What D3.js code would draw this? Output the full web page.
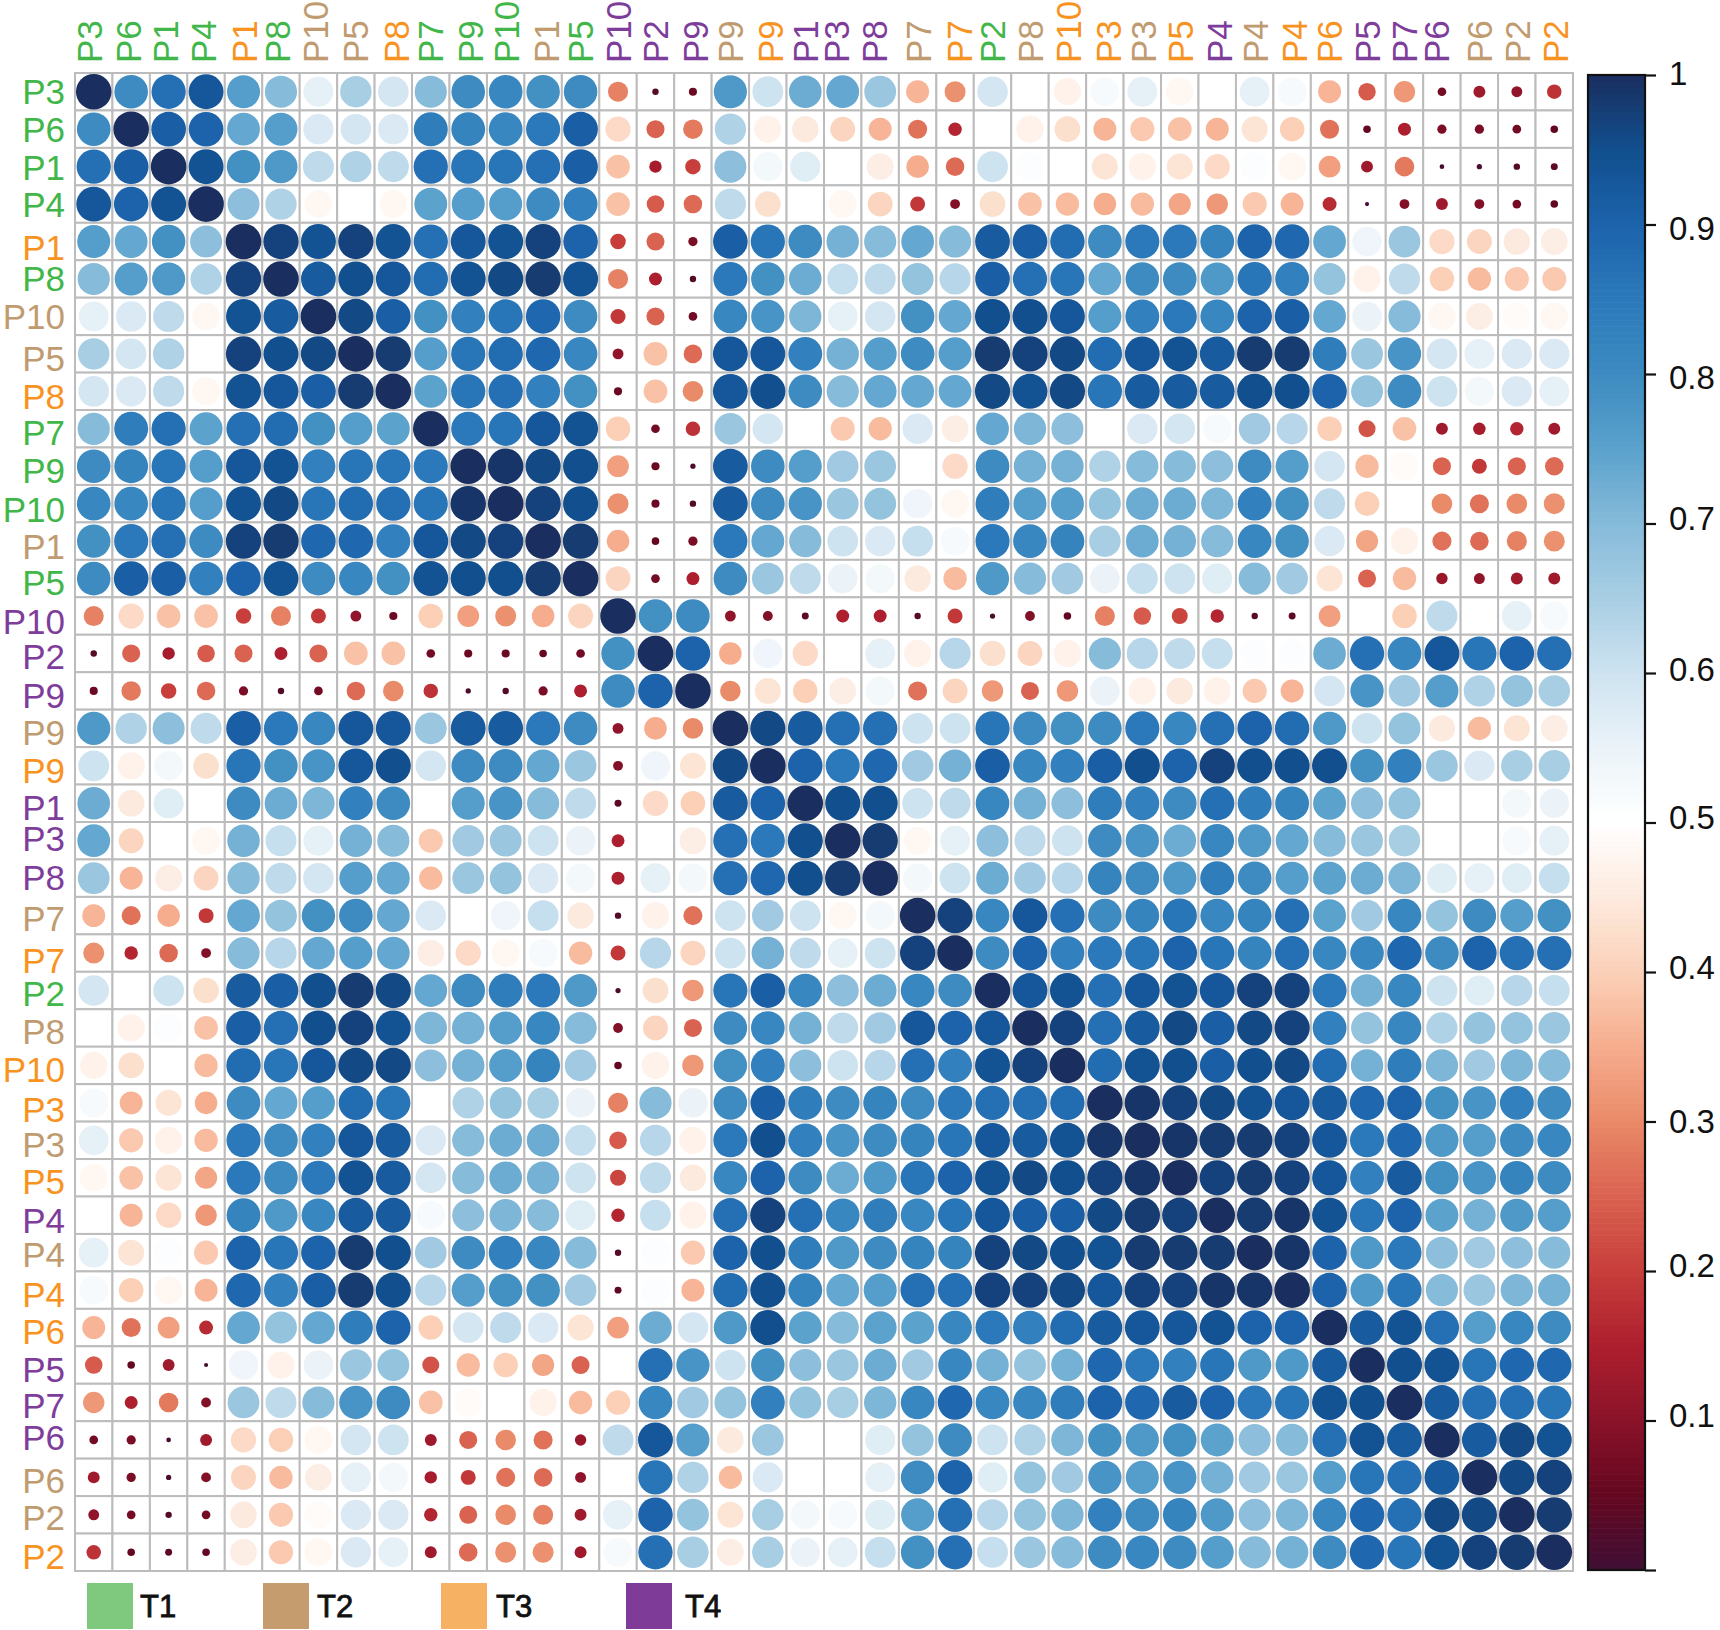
<!DOCTYPE html>
<html>
<head>
<meta charset="utf-8">
<script src="https://cdn.jsdelivr.net/npm/d3@7"></script>
<style>
html,body{margin:0;padding:0;background:#fff}
svg{display:block}
text{font-family:"Liberation Sans",Arial,sans-serif}
</style>
</head>
<body>
<svg id="chart" width="1720" height="1630"></svg>
<script>
// ---------- data ----------
const names = ["P3","P6","P1","P4","P1","P8","P10","P5","P8","P7","P9","P10","P1","P5","P10","P2","P9","P9","P9","P1","P3","P8","P7","P7","P2","P8","P10","P3","P3","P5","P4","P4","P4","P6","P5","P7","P6","P6","P2","P2"];
const groups = ["T1","T1","T1","T1","T3","T1","T2","T2","T3","T1","T1","T1","T2","T1","T4","T4","T4","T2","T3","T4","T4","T4","T2","T3","T1","T2","T3","T3","T2","T3","T4","T2","T3","T3","T4","T4","T4","T2","T2","T3"];
const legendGroups = ["T1","T2","T3","T4"];
const barTicks = [0.1,0.2,0.3,0.4,0.5,0.6,0.7,0.8,0.9,1];
// upper triangle of the symmetric matrix, each row starts at its diagonal cell
const upperTriangle = [
[1,.80,.87,.93,.76,.70,.56,.65,.59,.70,.80,.81,.79,.80,.29,.03,.06,.77,.60,.73,.74,.67,.36,.31,.59,.50,.47,.52,.56,.48,.50,.56,.52,.36,.24,.32,.07,.13,.11,.18],
[1,.91,.90,.74,.76,.58,.59,.58,.84,.82,.81,.85,.91,.42,.25,.28,.64,.47,.45,.41,.36,.27,.16,.50,.47,.43,.36,.39,.38,.36,.44,.40,.27,.05,.15,.08,.08,.07,.05],
[1,.94,.79,.77,.62,.64,.62,.87,.86,.86,.87,.91,.38,.14,.20,.69,.53,.57,.50,.46,.35,.26,.60,.51,.50,.44,.47,.44,.42,.51,.48,.33,.13,.28,.015,.02,.03,.04],
[1,.69,.64,.48,.50,.48,.75,.76,.76,.80,.83,.38,.24,.26,.62,.43,.50,.48,.41,.19,.09,.43,.38,.37,.35,.37,.34,.32,.39,.36,.17,.01,.09,.13,.09,.07,.05],
[1,.97,.94,.97,.94,.87,.93,.94,.97,.90,.20,.25,.08,.91,.86,.80,.72,.70,.74,.70,.92,.91,.88,.80,.85,.85,.82,.90,.89,.74,.54,.67,.42,.41,.45,.46],
[1,.92,.95,.93,.88,.94,.96,.98,.94,.29,.15,.03,.85,.79,.73,.61,.62,.68,.63,.91,.87,.86,.74,.80,.80,.77,.86,.83,.68,.47,.62,.40,.37,.39,.39],
[1,.96,.91,.79,.83,.86,.89,.80,.19,.25,.07,.81,.78,.71,.56,.59,.79,.74,.95,.95,.93,.76,.83,.85,.81,.90,.91,.74,.55,.70,.48,.46,.49,.48],
[1,.98,.76,.86,.88,.89,.81,.11,.38,.26,.93,.93,.83,.72,.76,.80,.76,.98,.97,.96,.88,.93,.94,.92,.98,.98,.84,.67,.78,.59,.56,.58,.58],
[1,.75,.86,.87,.83,.79,.06,.38,.30,.93,.95,.80,.70,.74,.74,.74,.96,.94,.96,.86,.92,.92,.92,.95,.95,.90,.68,.80,.60,.53,.58,.56],
[1,.85,.86,.93,.94,.40,.07,.18,.67,.59,.50,.39,.37,.58,.46,.74,.71,.69,.50,.58,.59,.52,.66,.63,.40,.23,.38,.13,.14,.16,.13],
[1,.99,.96,.95,.33,.06,.02,.92,.80,.76,.66,.67,.50,.42,.80,.72,.72,.64,.70,.70,.69,.80,.76,.59,.37,.49,.25,.19,.25,.26],
[1,.97,.95,.31,.06,.03,.92,.80,.78,.67,.68,.54,.48,.84,.76,.76,.68,.73,.73,.71,.83,.79,.62,.40,.50,.30,.27,.30,.31],
[1,.98,.35,.05,.08,.85,.74,.70,.60,.58,.61,.52,.85,.81,.82,.65,.73,.72,.70,.81,.79,.58,.34,.47,.27,.26,.29,.31],
[1,.41,.07,.15,.80,.67,.62,.55,.53,.45,.37,.77,.70,.66,.55,.61,.60,.57,.70,.66,.44,.25,.37,.12,.11,.13,.13],
[1,.79,.80,.11,.09,.04,.15,.15,.03,.19,.02,.09,.05,.29,.24,.21,.16,.03,.04,.33,.50,.40,.62,.50,.56,.52],
[1,.90,.35,.54,.42,.50,.56,.47,.63,.43,.41,.47,.70,.63,.62,.61,.51,.51,.73,.87,.81,.93,.86,.90,.87],
[1,.30,.44,.40,.46,.53,.27,.41,.32,.25,.32,.55,.47,.45,.47,.39,.36,.59,.78,.66,.76,.64,.68,.65],
[1,.96,.92,.87,.87,.60,.60,.86,.80,.79,.80,.85,.81,.87,.90,.88,.77,.60,.68,.45,.37,.44,.46],
[1,.90,.85,.89,.66,.72,.91,.81,.83,.91,.95,.90,.97,.95,.95,.95,.79,.83,.67,.58,.65,.65],
[1,.95,.95,.60,.62,.81,.72,.69,.84,.83,.80,.87,.84,.82,.75,.69,.68,.50,.50,.53,.55],
[1,.98,.48,.56,.69,.62,.60,.80,.78,.73,.81,.77,.74,.70,.67,.65,.50,.50,.52,.56],
[1,.53,.60,.73,.66,.63,.82,.80,.77,.84,.80,.76,.75,.73,.71,.57,.56,.57,.61],
[1,.97,.81,.93,.87,.80,.82,.86,.81,.82,.87,.75,.66,.81,.68,.80,.76,.79],
[1,.80,.90,.83,.85,.86,.90,.86,.82,.87,.81,.81,.89,.80,.90,.87,.87],
[1,.93,.94,.87,.93,.94,.93,.97,.97,.85,.72,.81,.60,.57,.63,.61],
[1,.97,.87,.92,.96,.91,.96,.97,.83,.68,.81,.64,.68,.68,.67],
[1,.88,.94,.95,.91,.95,.96,.88,.72,.84,.71,.66,.71,.70],
[1,.99,.97,.96,.94,.93,.92,.89,.90,.79,.78,.83,.80],
[1,.99,.98,.98,.97,.93,.85,.89,.77,.76,.80,.81],
[1,.97,.98,.97,.93,.83,.92,.79,.78,.82,.80],
[1,.98,.99,.94,.86,.90,.75,.72,.77,.76],
[1,.99,.90,.77,.85,.69,.66,.69,.70],
[1,.90,.77,.86,.70,.67,.71,.72],
[1,.92,.94,.87,.76,.81,.80],
[1,.95,.94,.86,.89,.89],
[1,.92,.87,.87,.86],
[1,.92,.96,.94],
[1,.96,.97],
[1,.98],
[1]
];
// ---------- layout & style (not data) ----------
const gridLeft = 75, gridTop = 73, gridSize = 1498;
const rowNudge = [0,0,1,0,5.5,0,0,4.7,5,4,4.7,6,5.5,3.5,5,3,5,4,5,4,-2,-1,3,7,3,4,4,7,4,4,5,2,4,4,4,3,-2,3,3,4];
const colNudge = [-4.7,-2.8,-2.8,-2.4,.8,-3.2,-3.2,0,3.2,0,2,.4,3.2,.4,.8,.4,2.8,.4,2.4,.4,-6.3,-5.9,.4,4.7,.4,.8,1.2,4,.8,.8,2.4,.8,2,0,.4,.4,-5.5,.4,.8,.8];
const tickNudge = {1:-1,0.9:4,0.8:4,0.7:-5,0.6:-3,0.5:-5,0.4:-4,0.3:0,0.2:-5,0.1:-5};
const labelColor = d3.scaleOrdinal(["T1","T2","T3","T4"],["#41b649","#bf9b6f","#f8931f","#7e3c9b"]);
const legendColor = d3.scaleOrdinal(["T1","T2","T3","T4"],["#7fc97f","#c49c6e","#f7b163","#7f3b98"]);
const legendX = [87,263,441,626];
const legendTextX = [140,317,496,685];

const colorScale = d3.scaleLinear()
  .domain([0,.05,.1,.15,.2,.25,.3,.35,.4,.45,.5,.55,.6,.65,.7,.75,.8,.85,.9,.95,1])
  .range(["#3f0f35","#640720","#8a1229","#ad1f2e","#c73e3b","#da6250","#e98a68","#f6ad8e","#fbd0b7","#fdeade","#ffffff","#ebf3f9","#cee3f0","#a8cee4","#86bbda","#5ba2cd","#3d8bc1","#2b79ba","#1c63ab","#114f8e","#1a2f60"]);
const radiusScale = d3.scaleLinear()
  .domain([0,.03,.1,.3,.5,.6,.8,1])
  .range([1.5,3.2,5.2,10.3,14.2,15.4,16.8,17.8]);

const idx = d3.range(names.length);
const pos = d3.scaleBand().domain(idx).range([0,gridSize]);
const matrix = idx.map(i=>idx.map(j=> i<=j ? upperTriangle[i][j-i] : upperTriangle[j][i-j]));
const cells = idx.flatMap(i=>idx.map(j=>({i,j,v:matrix[i][j]})));

const svg = d3.select("#chart");
const g = svg.append("g").attr("transform",`translate(${gridLeft},${gridTop})`);

g.append("g").selectAll("rect").data(cells).join("rect")
  .attr("x",d=>pos(d.j)).attr("y",d=>pos(d.i))
  .attr("width",pos.bandwidth()).attr("height",pos.bandwidth())
  .attr("fill","#fff").attr("stroke","#bdbcbc").attr("stroke-width",2);

g.append("g").selectAll("circle").data(cells).join("circle")
  .attr("cx",d=>pos(d.j)+pos.bandwidth()/2)
  .attr("cy",d=>pos(d.i)+pos.bandwidth()/2)
  .attr("r",d=>radiusScale(d.v))
  .attr("fill",d=>colorScale(d.v));

// row labels
svg.append("g").selectAll("text").data(idx).join("text")
  .attr("x",65)
  .attr("y",i=>gridTop+pos(i)+pos.bandwidth()/2+12.5+rowNudge[i])
  .attr("text-anchor","end").attr("font-size",35)
  .attr("fill",i=>labelColor(groups[i]))
  .text(i=>names[i]);
// column labels
svg.append("g").selectAll("text").data(idx).join("text")
  .attr("transform",i=>`translate(${gridLeft+pos(i)+pos.bandwidth()/2+12.5+colNudge[i]},63) rotate(-90)`)
  .attr("text-anchor","start").attr("font-size",35)
  .attr("fill",i=>labelColor(groups[i]))
  .text(i=>names[i]);

// colour bar
const barX = 1588, barW = 57, barTop = 75, barBottom = 1570;
const barY = d3.scaleLinear().domain([0,1]).range([barBottom,barTop]);
const steps = d3.range(0,1,0.004);
svg.append("g").selectAll("rect").data(steps).join("rect")
  .attr("x",barX).attr("width",barW)
  .attr("y",d=>barY(d+0.004)).attr("height",d=>barY(d)-barY(d+0.004)+0.6)
  .attr("fill",d=>colorScale(d+0.002));
svg.append("rect").attr("x",barX).attr("y",barTop).attr("width",barW).attr("height",barBottom-barTop)
  .attr("fill","none").attr("stroke","#111").attr("stroke-width",2.2);

const axis = svg.append("g").attr("transform",`translate(${barX+barW},0)`)
  .call(d3.axisRight(barY).tickValues(barTicks.concat([0])).tickSize(11).tickPadding(13).tickFormat(d=>d===0?"":d3.format("~g")(d)));
axis.select(".domain").remove();
axis.selectAll("line").attr("stroke","#111").attr("stroke-width",2.2);
axis.selectAll("text").attr("font-size",33).attr("fill","#111").attr("font-family","Liberation Sans, Arial, sans-serif")
  .attr("dy",d=>(0.32*33+(tickNudge[d]||0))+"px");

// legend
const legend = svg.append("g").selectAll("g").data(legendGroups).join("g");
legend.append("rect")
  .attr("x",(d,i)=>legendX[i]).attr("y",1583).attr("width",46).attr("height",46)
  .attr("fill",d=>legendColor(d));
legend.append("text")
  .attr("x",(d,i)=>legendTextX[i]).attr("y",1617)
  .attr("font-size",31).attr("fill","#111")
  .attr("stroke","#111").attr("stroke-width",0.8)
  .text(d=>d);
</script>
</body>
</html>
